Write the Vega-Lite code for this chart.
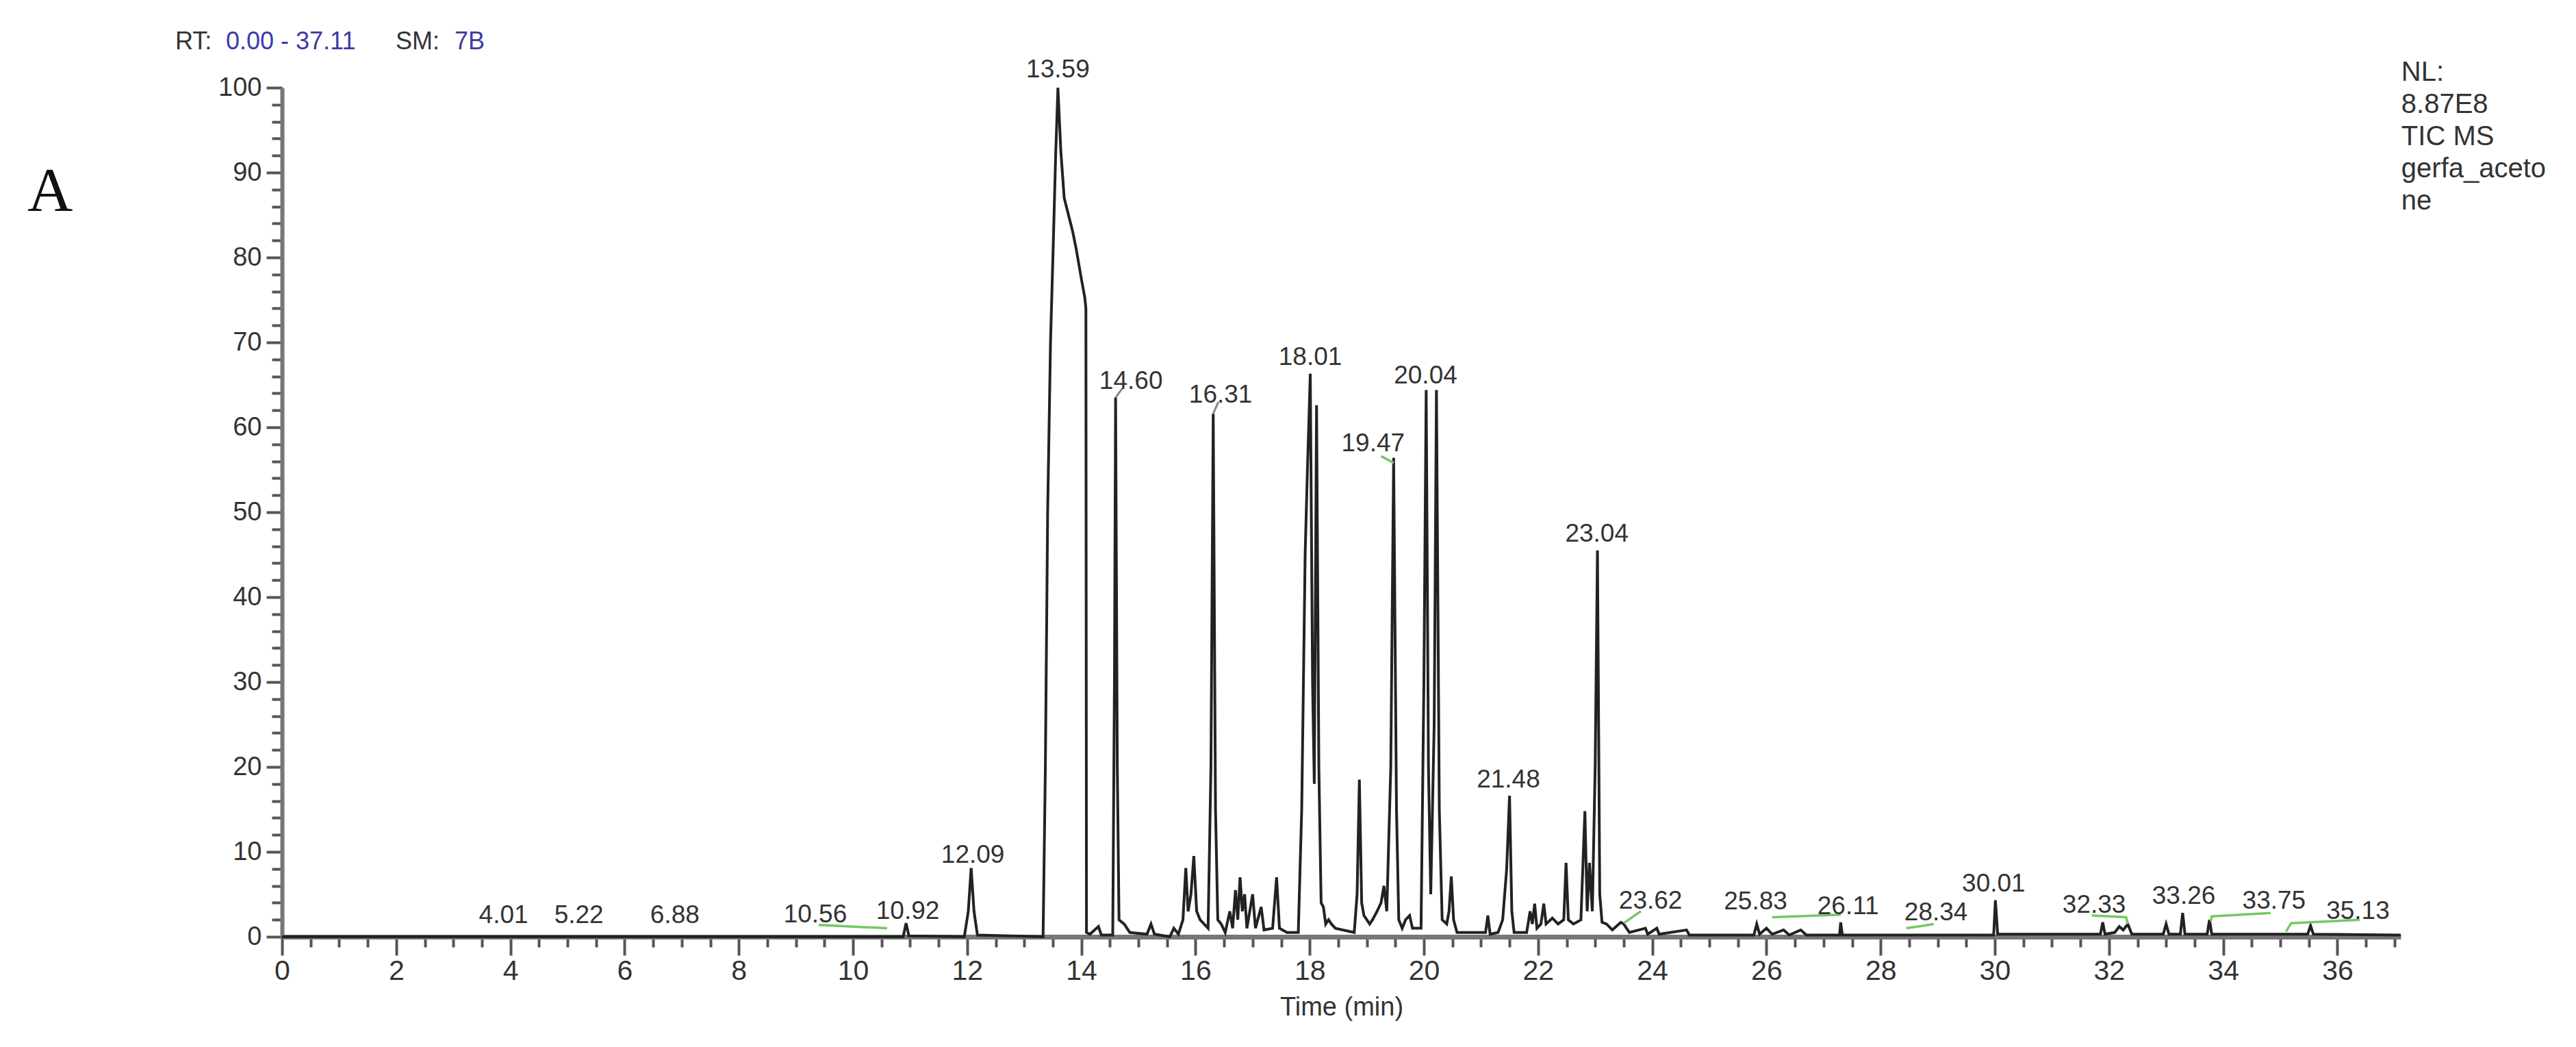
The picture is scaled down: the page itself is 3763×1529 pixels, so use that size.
{
  "$schema": "https://vega.github.io/schema/vega-lite/v6.json",
  "width": 3095,
  "height": 1240,
  "autosize": {"type": "none"},
  "padding": {"left": 412, "top": 128, "right": 256, "bottom": 161},
  "background": "white",
  "config": {"view": {"stroke": null}, "font": "Liberation Sans"},
  "datasets": {
    "tic": [
      {"t": 0, "v": 0}, {"t": 3.9, "v": 0}, {"t": 10.88, "v": 0}, {"t": 10.93, "v": 1.6}, {"t": 10.98, "v": 0.1},
      {"t": 11.95, "v": 0}, {"t": 12.02, "v": 3}, {"t": 12.07, "v": 8.1}, {"t": 12.12, "v": 3}, {"t": 12.18, "v": 0.2},
      {"t": 13.33, "v": 0}, {"t": 13.37, "v": 20}, {"t": 13.41, "v": 50}, {"t": 13.46, "v": 70}, {"t": 13.51, "v": 82},
      {"t": 13.55, "v": 92}, {"t": 13.59, "v": 100}, {"t": 13.64, "v": 92.6}, {"t": 13.7, "v": 87}, {"t": 13.76, "v": 85.4},
      {"t": 13.85, "v": 83}, {"t": 13.91, "v": 81}, {"t": 14.0, "v": 77.5}, {"t": 14.06, "v": 75.3}, {"t": 14.08, "v": 74},
      {"t": 14.09, "v": 0.5}, {"t": 14.15, "v": 0.3}, {"t": 14.3, "v": 1.2}, {"t": 14.35, "v": 0.2}, {"t": 14.55, "v": 0.2},
      {"t": 14.58, "v": 30}, {"t": 14.6, "v": 63.5}, {"t": 14.63, "v": 20}, {"t": 14.66, "v": 2}, {"t": 14.75, "v": 1.5},
      {"t": 14.85, "v": 0.5}, {"t": 15.15, "v": 0.3}, {"t": 15.22, "v": 1.5}, {"t": 15.28, "v": 0.3}, {"t": 15.55, "v": 0},
      {"t": 15.62, "v": 1}, {"t": 15.7, "v": 0.3}, {"t": 15.78, "v": 2}, {"t": 15.83, "v": 8.1}, {"t": 15.87, "v": 3},
      {"t": 15.92, "v": 5}, {"t": 15.97, "v": 9.5}, {"t": 16.02, "v": 3}, {"t": 16.08, "v": 2}, {"t": 16.15, "v": 1.5},
      {"t": 16.22, "v": 1}, {"t": 16.27, "v": 20}, {"t": 16.31, "v": 61.6}, {"t": 16.35, "v": 15}, {"t": 16.39, "v": 2},
      {"t": 16.45, "v": 1.5}, {"t": 16.52, "v": 0.5}, {"t": 16.6, "v": 3}, {"t": 16.65, "v": 1}, {"t": 16.7, "v": 5.5},
      {"t": 16.74, "v": 2}, {"t": 16.78, "v": 7}, {"t": 16.82, "v": 3}, {"t": 16.86, "v": 5}, {"t": 16.9, "v": 1},
      {"t": 17.0, "v": 5}, {"t": 17.05, "v": 1}, {"t": 17.15, "v": 3.5}, {"t": 17.2, "v": 0.8}, {"t": 17.35, "v": 1},
      {"t": 17.42, "v": 7}, {"t": 17.47, "v": 1}, {"t": 17.6, "v": 0.5}, {"t": 17.8, "v": 0.5}, {"t": 17.86, "v": 15},
      {"t": 17.92, "v": 45}, {"t": 17.96, "v": 55}, {"t": 18.01, "v": 66.3}, {"t": 18.05, "v": 30}, {"t": 18.08, "v": 18},
      {"t": 18.12, "v": 62.6}, {"t": 18.16, "v": 20}, {"t": 18.2, "v": 4}, {"t": 18.24, "v": 3.5}, {"t": 18.28, "v": 1.5},
      {"t": 18.33, "v": 2}, {"t": 18.38, "v": 1.5}, {"t": 18.45, "v": 1}, {"t": 18.78, "v": 0.5}, {"t": 18.83, "v": 5},
      {"t": 18.87, "v": 18.5}, {"t": 18.91, "v": 4}, {"t": 18.95, "v": 2.5}, {"t": 19.0, "v": 2}, {"t": 19.05, "v": 1.5},
      {"t": 19.1, "v": 2}, {"t": 19.18, "v": 3}, {"t": 19.25, "v": 4}, {"t": 19.3, "v": 6}, {"t": 19.35, "v": 3},
      {"t": 19.42, "v": 20}, {"t": 19.47, "v": 56.4}, {"t": 19.52, "v": 15}, {"t": 19.56, "v": 2}, {"t": 19.62, "v": 1},
      {"t": 19.68, "v": 2}, {"t": 19.75, "v": 2.5}, {"t": 19.8, "v": 1}, {"t": 19.95, "v": 1}, {"t": 20.0, "v": 30},
      {"t": 20.04, "v": 64.4}, {"t": 20.08, "v": 20}, {"t": 20.12, "v": 5}, {"t": 20.18, "v": 25}, {"t": 20.22, "v": 64.4},
      {"t": 20.27, "v": 15}, {"t": 20.32, "v": 2}, {"t": 20.4, "v": 1.5}, {"t": 20.44, "v": 3}, {"t": 20.48, "v": 7.1},
      {"t": 20.52, "v": 2}, {"t": 20.58, "v": 0.5}, {"t": 21.08, "v": 0.5}, {"t": 21.12, "v": 2.5}, {"t": 21.16, "v": 0.3},
      {"t": 21.3, "v": 0.5}, {"t": 21.38, "v": 2}, {"t": 21.45, "v": 8}, {"t": 21.5, "v": 16.6}, {"t": 21.54, "v": 3},
      {"t": 21.58, "v": 0.5}, {"t": 21.8, "v": 0.5}, {"t": 21.86, "v": 3}, {"t": 21.9, "v": 1.5}, {"t": 21.94, "v": 3.9},
      {"t": 21.98, "v": 1}, {"t": 22.05, "v": 1.5}, {"t": 22.1, "v": 3.9}, {"t": 22.14, "v": 1.5}, {"t": 22.25, "v": 2.2},
      {"t": 22.35, "v": 1.5}, {"t": 22.45, "v": 2}, {"t": 22.49, "v": 8.7}, {"t": 22.53, "v": 2}, {"t": 22.62, "v": 1.5},
      {"t": 22.75, "v": 2}, {"t": 22.82, "v": 14.8}, {"t": 22.86, "v": 3}, {"t": 22.9, "v": 8.7}, {"t": 22.95, "v": 3},
      {"t": 23.0, "v": 20}, {"t": 23.04, "v": 45.5}, {"t": 23.08, "v": 5}, {"t": 23.12, "v": 1.7}, {"t": 23.2, "v": 1.5},
      {"t": 23.3, "v": 0.8}, {"t": 23.45, "v": 1.7}, {"t": 23.5, "v": 1.5}, {"t": 23.6, "v": 0.5}, {"t": 23.88, "v": 1},
      {"t": 23.92, "v": 0.3}, {"t": 24.08, "v": 1}, {"t": 24.12, "v": 0.3}, {"t": 24.6, "v": 0.8}, {"t": 24.65, "v": 0.2},
      {"t": 25.78, "v": 0.2}, {"t": 25.83, "v": 1.5}, {"t": 25.88, "v": 0.3}, {"t": 26.0, "v": 1}, {"t": 26.1, "v": 0.3},
      {"t": 26.3, "v": 0.8}, {"t": 26.4, "v": 0.2}, {"t": 26.6, "v": 0.8}, {"t": 26.7, "v": 0.2}, {"t": 27.28, "v": 0.2},
      {"t": 27.3, "v": 1.7}, {"t": 27.33, "v": 0.2}, {"t": 29.98, "v": 0.2}, {"t": 30.01, "v": 4.3}, {"t": 30.05, "v": 0.3},
      {"t": 31.85, "v": 0.3}, {"t": 31.89, "v": 1.7}, {"t": 31.93, "v": 0.3}, {"t": 32.1, "v": 0.5}, {"t": 32.18, "v": 1.2},
      {"t": 32.25, "v": 0.8}, {"t": 32.33, "v": 1.5}, {"t": 32.4, "v": 0.3}, {"t": 32.95, "v": 0.3}, {"t": 33.0, "v": 1.5},
      {"t": 33.05, "v": 0.3}, {"t": 33.25, "v": 0.3}, {"t": 33.29, "v": 2.8}, {"t": 33.33, "v": 0.3}, {"t": 33.72, "v": 0.3},
      {"t": 33.76, "v": 2}, {"t": 33.8, "v": 0.3}, {"t": 35.48, "v": 0.3}, {"t": 35.53, "v": 1.3}, {"t": 35.58, "v": 0.3},
      {"t": 37.11, "v": 0.2}
    ],
    "green": [
      {"g": "a", "t": 9.4, "v": 1.4}, {"g": "a", "t": 10.6, "v": 1.0},
      {"g": "b", "t": 23.5, "v": 1.6}, {"g": "b", "t": 23.8, "v": 3.0},
      {"g": "c", "t": 26.1, "v": 2.3}, {"g": "c", "t": 27.3, "v": 2.6},
      {"g": "d", "t": 28.45, "v": 1.0}, {"g": "d", "t": 28.93, "v": 1.5},
      {"g": "e", "t": 31.7, "v": 2.5}, {"g": "e", "t": 32.3, "v": 2.3}, {"g": "e", "t": 32.33, "v": 1.5},
      {"g": "f", "t": 33.78, "v": 1.8}, {"g": "f", "t": 33.8, "v": 2.4}, {"g": "f", "t": 34.83, "v": 2.8},
      {"g": "h", "t": 35.1, "v": 0.6}, {"g": "h", "t": 35.19, "v": 1.6}, {"g": "h", "t": 36.39, "v": 2.0},
      {"g": "i", "t": 19.25, "v": 56.6}, {"g": "i", "t": 19.47, "v": 55.8}
    ],
    "gray": [
      {"g": "a", "t": 14.6, "v": 63.5}, {"g": "a", "t": 14.72, "v": 64.6},
      {"g": "b", "t": 16.31, "v": 61.6}, {"g": "b", "t": 16.4, "v": 63.0}
    ],
    "labels": [
      {"label": "4.01", "t": 3.88, "v": 1.6}, {"label": "5.22", "t": 5.2, "v": 1.6}, {"label": "6.88", "t": 6.88, "v": 1.6},
      {"label": "10.56", "t": 9.34, "v": 1.7}, {"label": "10.92", "t": 10.96, "v": 2.1}, {"label": "12.09", "t": 12.1, "v": 8.7},
      {"label": "13.59", "t": 13.59, "v": 101.2}, {"label": "14.60", "t": 14.87, "v": 64.5}, {"label": "16.31", "t": 16.44, "v": 62.9},
      {"label": "18.01", "t": 18.01, "v": 67.3}, {"label": "19.47", "t": 19.11, "v": 57.2}, {"label": "20.04", "t": 20.03, "v": 65.2},
      {"label": "21.48", "t": 21.48, "v": 17.6}, {"label": "23.04", "t": 23.03, "v": 46.5}, {"label": "23.62", "t": 23.97, "v": 3.3},
      {"label": "25.83", "t": 25.81, "v": 3.2}, {"label": "26.11", "t": 27.43, "v": 2.7}, {"label": "28.34", "t": 28.97, "v": 1.9},
      {"label": "30.01", "t": 29.98, "v": 5.3}, {"label": "32.33", "t": 31.74, "v": 2.8}, {"label": "33.26", "t": 33.31, "v": 3.9},
      {"label": "33.75", "t": 34.89, "v": 3.3}, {"label": "35.13", "t": 36.36, "v": 2.1}
    ],
    "blackNotes": [
      {"label": "RT:", "t": -1.871, "v": 104.5}, {"label": "SM:", "t": 1.99, "v": 104.5}
    ],
    "blueNotes": [
      {"label": "0.00 - 37.11", "t": -0.983, "v": 104.5}, {"label": "7B", "t": 3.022, "v": 104.5}
    ],
    "nl": [
      {"label": "NL:\n8.87E8\nTIC  MS\ngerfa_aceto\nne", "t": 37.12, "v": 103.4}
    ],
    "letter": [
      {"label": "A", "t": -4.46, "v": 85.5}
    ]
  },
  "encoding": {
    "x": {
      "field": "t", "type": "quantitative",
      "scale": {"domain": [0, 37.11], "nice": false, "zero": false},
      "axis": {
        "title": "Time (min)",
        "titleFontSize": 38, "titleFontWeight": "normal", "titleColor": "#333", "titlePadding": 14,
        "values": [0,0.5,1,1.5,2,2.5,3,3.5,4,4.5,5,5.5,6,6.5,7,7.5,8,8.5,9,9.5,10,10.5,11,11.5,12,12.5,13,13.5,14,14.5,15,15.5,16,16.5,17,17.5,18,18.5,19,19.5,20,20.5,21,21.5,22,22.5,23,23.5,24,24.5,25,25.5,26,26.5,27,27.5,28,28.5,29,29.5,30,30.5,31,31.5,32,32.5,33,33.5,34,34.5,35,35.5,36,36.5,37],
        "labelExpr": "datum.value % 2 === 0 ? format(datum.value, 'd') : ''",
        "labelFontSize": 41, "labelColor": "#333", "labelPadding": 3, "labelFlush": false, "labelOverlap": false,
        "tickSize": {"condition": {"test": "datum.value % 2 === 0", "value": 27}, "value": 15},
        "tickWidth": 4, "tickColor": "#555",
        "domainColor": "#777", "domainWidth": 7,
        "grid": false
      }
    },
    "y": {
      "field": "v", "type": "quantitative",
      "scale": {"domain": [0, 100], "nice": false},
      "axis": {
        "title": null,
        "values": [0,2,4,6,8,10,12,14,16,18,20,22,24,26,28,30,32,34,36,38,40,42,44,46,48,50,52,54,56,58,60,62,64,66,68,70,72,74,76,78,80,82,84,86,88,90,92,94,96,98,100],
        "labelExpr": "datum.value % 10 === 0 ? format(datum.value, 'd') : ''",
        "labelFontSize": 38, "labelColor": "#333", "labelPadding": 7, "labelOverlap": false, "labelFlush": false,
        "tickSize": {"condition": {"test": "datum.value % 10 === 0", "value": 23}, "value": 15},
        "tickWidth": 4, "tickColor": "#555",
        "domainColor": "#777", "domainWidth": 6,
        "grid": false
      }
    }
  },
  "layer": [
    {
      "data": {"name": "tic"},
      "mark": {"type": "line", "color": "#222", "strokeWidth": 4, "clip": false}
    },
    {
      "data": {"name": "green"},
      "mark": {"type": "line", "color": "#74c865", "strokeWidth": 3.5},
      "encoding": {"detail": {"field": "g"}}
    },
    {
      "data": {"name": "gray"},
      "mark": {"type": "line", "color": "#888", "strokeWidth": 3},
      "encoding": {"detail": {"field": "g"}}
    },
    {
      "data": {"name": "labels"},
      "mark": {"type": "text", "fontSize": 37, "color": "#333", "align": "center", "baseline": "alphabetic"},
      "encoding": {"text": {"field": "label"}}
    },
    {
      "data": {"name": "blackNotes"},
      "mark": {"type": "text", "fontSize": 36, "color": "#333", "align": "left", "baseline": "alphabetic"},
      "encoding": {"text": {"field": "label"}}
    },
    {
      "data": {"name": "blueNotes"},
      "mark": {"type": "text", "fontSize": 36, "color": "#3b3ba8", "align": "left", "baseline": "alphabetic"},
      "encoding": {"text": {"field": "label"}}
    },
    {
      "data": {"name": "nl"},
      "mark": {"type": "text", "fontSize": 40, "color": "#333", "align": "left", "baseline": "top", "lineBreak": "\n", "lineHeight": 47},
      "encoding": {"text": {"field": "label"}}
    },
    {
      "data": {"name": "letter"},
      "mark": {"type": "text", "fontSize": 92, "font": "Liberation Serif", "color": "#111", "align": "left", "baseline": "alphabetic"},
      "encoding": {"text": {"field": "label"}}
    }
  ]
}
